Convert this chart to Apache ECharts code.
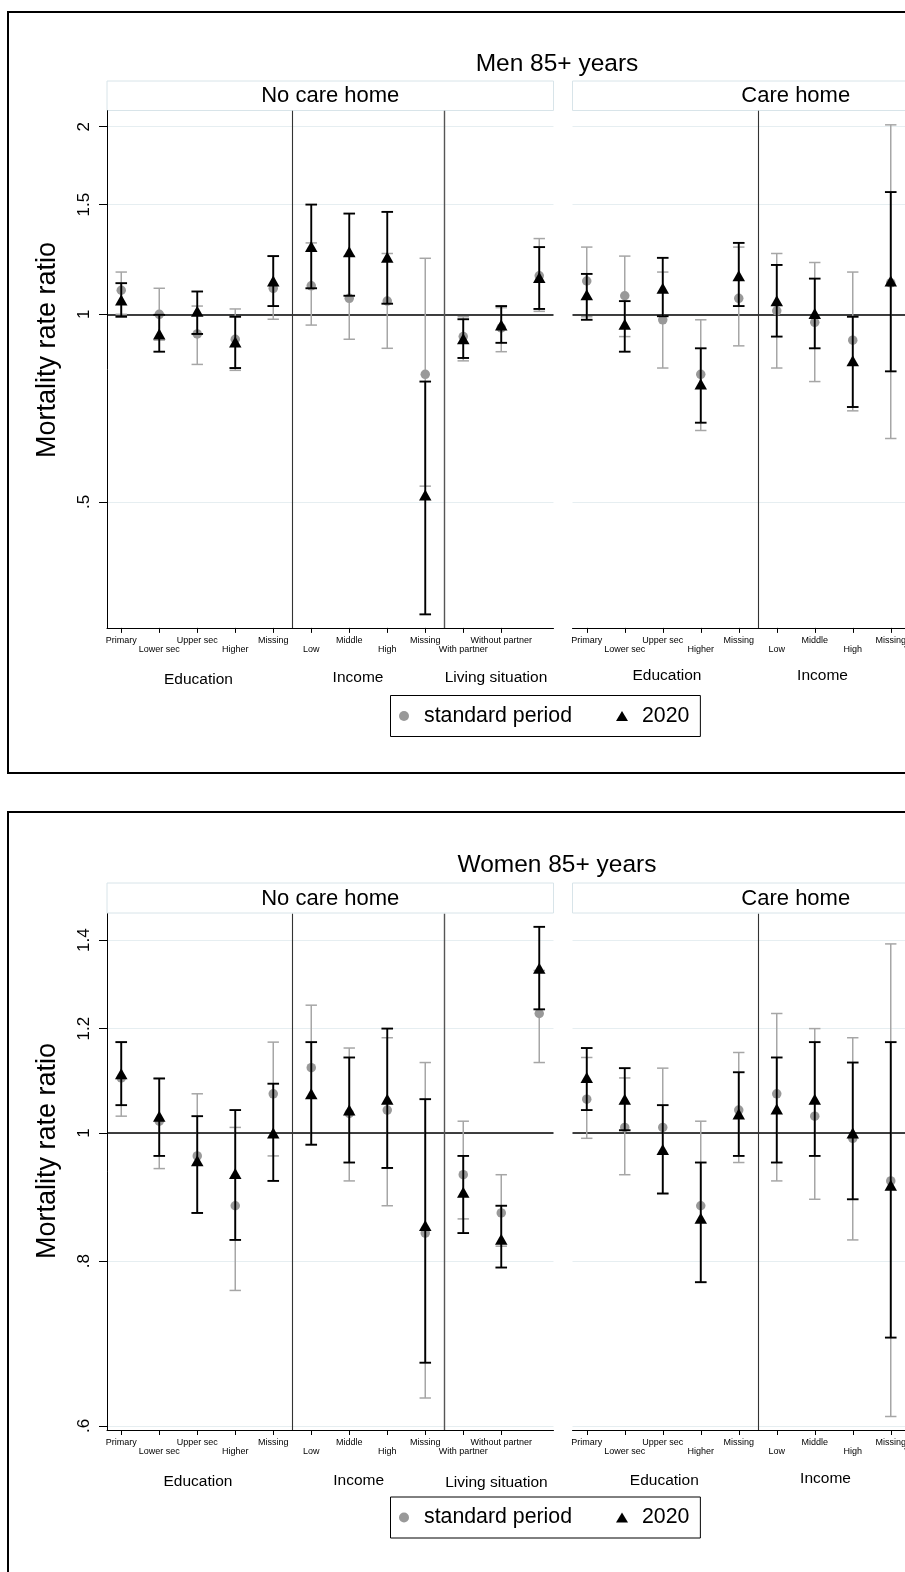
<!DOCTYPE html>
<html><head><meta charset="utf-8">
<script src="https://cdn.jsdelivr.net/npm/echarts@6/dist/echarts.min.js"></script>
<style>html,body{margin:0;padding:0;overflow:hidden;background:#fff}#c{width:1040px;height:1572px}</style>
</head><body><div id="c"></div><script>
// ---------- categories & ticks ----------
const xLabels = ['Primary','Lower sec','Upper sec','Higher','Missing','Low','Middle','High','Missing','With partner','Without partner','Other'];
const menYTicks = [0.5, 1, 1.5, 2];
const womenYTicks = [0.6, 0.8, 1, 1.2, 1.4];
const groupDividers = [5.5, 9.5];

// ---------- Men 85+, no care home ----------
const menNCH_std_est = [1.093, 1.000, 0.930, 0.912, 1.101, 1.111, 1.061, 1.050, 0.801, 0.921, 0.951, 1.153];
const menNCH_std_lo  = [1.000, 0.909, 0.831, 0.813, 0.982, 0.961, 0.912, 0.882, 0.530, 0.842, 0.871, 1.011];
const menNCH_std_hi  = [1.169, 1.101, 1.031, 1.020, 1.240, 1.302, 1.240, 1.252, 1.230, 0.991, 1.025, 1.323];
const menNCH_20_est  = [1.054, 0.930, 1.011, 0.903, 1.131, 1.285, 1.260, 1.235, 0.513, 0.914, 0.961, 1.146];
const menNCH_20_lo   = [0.991, 0.871, 0.930, 0.820, 1.031, 1.101, 1.071, 1.040, 0.330, 0.851, 0.900, 1.020];
const menNCH_20_hi   = [1.122, 0.998, 1.088, 0.991, 1.240, 1.500, 1.451, 1.460, 0.780, 0.982, 1.031, 1.282];

// ---------- Men 85+, care home (visible part) ----------
const menCH_std_est = [1.131, 1.071, 0.980, 0.801, 1.061, 1.013, 0.971, 0.909, 1.123];
const menCH_std_lo  = [0.991, 0.921, 0.820, 0.651, 0.890, 0.820, 0.780, 0.700, 0.632];
const menCH_std_hi  = [1.282, 1.240, 1.169, 0.980, 1.282, 1.252, 1.211, 1.169, 2.014];
const menCH_20_est  = [1.075, 0.964, 1.101, 0.773, 1.153, 1.051, 1.003, 0.842, 1.131];
const menCH_20_lo   = [0.980, 0.871, 0.993, 0.670, 1.031, 0.921, 0.882, 0.710, 0.810];
const menCH_20_hi   = [1.161, 1.050, 1.232, 0.882, 1.302, 1.200, 1.141, 0.991, 1.571];

// ---------- Women 85+, no care home ----------
const womenNCH_std_est = [1.101, 1.021, 0.961, 0.881, 1.071, 1.121, 1.035, 1.041, 0.840, 0.930, 0.870, 1.232];
const womenNCH_std_lo  = [1.030, 0.940, 0.870, 0.760, 0.961, 0.980, 0.920, 0.881, 0.630, 0.861, 0.821, 1.131];
const womenNCH_std_hi  = [1.172, 1.100, 1.071, 1.010, 1.172, 1.250, 1.160, 1.181, 1.131, 1.021, 0.930, 1.328];
const womenNCH_20_est  = [1.109, 1.030, 0.953, 0.932, 1.000, 1.071, 1.041, 1.061, 0.851, 0.902, 0.831, 1.333];
const womenNCH_20_lo   = [1.050, 0.961, 0.870, 0.830, 0.920, 0.980, 0.950, 0.941, 0.670, 0.840, 0.791, 1.241];
const womenNCH_20_hi   = [1.172, 1.100, 1.030, 1.041, 1.090, 1.172, 1.141, 1.200, 1.061, 0.961, 0.881, 1.433];

// ---------- Women 85+, care home (visible part) ----------
const womenCH_std_est = [1.061, 1.010, 1.010, 0.881, 1.041, 1.071, 1.030, 0.991, 0.920];
const womenCH_std_lo  = [0.991, 0.930, 0.900, 0.771, 0.950, 0.920, 0.891, 0.830, 0.610];
const womenCH_std_hi  = [1.141, 1.101, 1.120, 1.021, 1.151, 1.232, 1.200, 1.181, 1.391];
const womenCH_20_est  = [1.102, 1.061, 0.972, 0.862, 1.034, 1.043, 1.061, 1.000, 0.913];
const womenCH_20_lo   = [1.041, 1.005, 0.900, 0.771, 0.961, 0.950, 0.961, 0.891, 0.700];
const womenCH_20_hi   = [1.160, 1.120, 1.050, 0.950, 1.112, 1.141, 1.172, 1.131, 1.172];

// ---------- layout ----------
const FONT = '"Liberation Sans", Arial, Helvetica, sans-serif';
const GRAY_BAR = '#a6a6a6', GRAY_PT = '#999999', BLACK = '#000000';
const xPos = xLabels.map((_, i) => i + 1);

const panels = [
  { left: 107,   top: 110.7, height: 517.2, min: 0.3139, max: 2.122, ticks: menYTicks, showY: true,
    std: [menNCH_std_est, menNCH_std_lo, menNCH_std_hi], y20: [menNCH_20_est, menNCH_20_lo, menNCH_20_hi] },
  { left: 572.5, top: 110.7, height: 517.2, min: 0.3139, max: 2.122, ticks: menYTicks, showY: false,
    std: [menCH_std_est, menCH_std_lo, menCH_std_hi], y20: [menCH_20_est, menCH_20_lo, menCH_20_hi] },
  { left: 107,   top: 913.8, height: 516.2, min: 0.5958, max: 1.466, ticks: womenYTicks, showY: true,
    std: [womenNCH_std_est, womenNCH_std_lo, womenNCH_std_hi], y20: [womenNCH_20_est, womenNCH_20_lo, womenNCH_20_hi] },
  { left: 572.5, top: 913.8, height: 516.2, min: 0.5958, max: 1.466, ticks: womenYTicks, showY: false,
    std: [womenCH_std_est, womenCH_std_lo, womenCH_std_hi], y20: [womenCH_20_est, womenCH_20_lo, womenCH_20_hi] }
];
const GRID_W = 446.5;

function barRender(capHalf, color, width) {
  return function (params, api) {
    const x = api.value(0), lo = api.value(1), hi = api.value(2);
    const p1 = api.coord([x, lo]), p2 = api.coord([x, hi]);
    const style = { stroke: color, lineWidth: width, fill: null };
    return { type: 'group', children: [
      { type: 'line', shape: { x1: p1[0], y1: p1[1], x2: p2[0], y2: p2[1] }, style: style },
      { type: 'line', shape: { x1: p1[0] - capHalf, y1: p1[1], x2: p1[0] + capHalf, y2: p1[1] }, style: style },
      { type: 'line', shape: { x1: p2[0] - capHalf, y1: p2[1], x2: p2[0] + capHalf, y2: p2[1] }, style: style }
    ]};
  };
}

const grid = [], xAxis = [], yAxis = [], series = [];
panels.forEach((p, i) => {
  grid.push({ left: p.left, top: p.top, width: GRID_W, height: p.height });
  xAxis.push({
    gridIndex: i, type: 'value', min: 0.625, max: 12.375,
    axisLine: { show: true, lineStyle: { color: '#000', width: 1 } },
    axisTick: { show: true, customValues: xPos, length: 5, lineStyle: { color: '#000', width: 1 } },
    axisLabel: { show: true, customValues: xPos, fontSize: 9, lineHeight: 9, margin: 8.5, color: '#000', fontFamily: FONT,
      formatter: v => { const k = Math.round(v) - 1; return (k % 2 === 1 ? '\n' : '') + xLabels[k]; } },
    splitLine: { show: false }
  });
  yAxis.push({
    gridIndex: i, type: 'log', logBase: 10, min: p.min, max: p.max,
    axisLine: { show: p.showY, lineStyle: { color: '#000', width: 1 } },
    axisTick: { show: p.showY, customValues: p.ticks, length: 8, lineStyle: { color: '#000', width: 1 } },
    axisLabel: { show: p.showY, customValues: p.ticks, rotate: 90, fontSize: 17, margin: 14, color: '#000', fontFamily: FONT,
      formatter: v => String(+v.toFixed(2)).replace(/^0\./, '.') },
    splitLine: { show: true, lineStyle: { color: '#e6eef1', width: 1 } }
  });
  const n = p.std[0].length;
  const stdBars = [], stdPts = [], bars20 = [], pts20 = [];
  for (let k = 0; k < n; k++) {
    stdBars.push([xPos[k], p.std[1][k], p.std[2][k]]);
    stdPts.push([xPos[k], p.std[0][k]]);
    bars20.push([xPos[k], p.y20[1][k], p.y20[2][k]]);
    pts20.push([xPos[k], p.y20[0][k]]);
  }
  const divs = groupDividers.filter(d => d < 12.375);
  series.push({
    type: 'custom', name: 'std CI', xAxisIndex: i, yAxisIndex: i, z: 2, silent: true,
    renderItem: barRender(5.7, GRAY_BAR, 1.5), encode: { x: 0, y: [1, 2] }, data: stdBars,
    markLine: { silent: true, symbol: 'none', z: 1, label: { show: false }, animation: false,
      data: [
        { yAxis: 1, lineStyle: { color: '#000', width: 1.6, type: 'solid' } }
      ].concat(divs.map((d, j) => ({ xAxis: d, lineStyle: { color: j === 0 ? '#333' : '#555', width: j === 0 ? 1.1 : 1.4, type: 'solid' } })))
    }
  });
  series.push({
    type: 'scatter', name: 'standard period', xAxisIndex: i, yAxisIndex: i, z: 3, silent: true,
    symbol: 'circle', symbolSize: 9.5, itemStyle: { color: GRAY_PT, opacity: 1 }, data: stdPts
  });
  series.push({
    type: 'custom', name: '2020 CI', xAxisIndex: i, yAxisIndex: i, z: 4, silent: true,
    renderItem: barRender(5.8, BLACK, 1.9), encode: { x: 0, y: [1, 2] }, data: bars20
  });
  series.push({
    type: 'scatter', name: '2020', xAxisIndex: i, yAxisIndex: i, z: 5, silent: true,
    symbol: 'triangle', symbolSize: [12.5, 11], itemStyle: { color: BLACK, opacity: 1 }, data: pts20
  });
});

function legendAt(top) {
  return {
    left: 390.5, top: top, orient: 'horizontal', padding: [10, 11, 10, 8.5],
    borderColor: '#000', borderWidth: 1, backgroundColor: '#fff',
    itemWidth: 12, itemHeight: 10, itemGap: 44, selectedMode: false,
    textStyle: { fontSize: 21.3, color: '#000', fontFamily: FONT, padding: [0, 0, 0, 9] },
    data: [{ name: 'standard period', icon: 'circle' }, { name: '2020', icon: 'triangle' }]
  };
}

function txt(t, x, y, size, rot) {
  return { type: 'text', x: x, y: y, rotation: rot || 0, z: 10, silent: true,
    style: { text: t, fill: '#000', font: size + 'px ' + FONT, textAlign: 'center', textVerticalAlign: 'middle' } };
}
function strip(x, y, w, h, t) {
  return [
    { type: 'rect', shape: { x: x, y: y, width: w, height: h }, z: 0, silent: true,
      style: { fill: '#ffffff', stroke: '#d8e4e9', lineWidth: 1 } },
    txt(t, x + w / 2, y + h / 2 + 0.5, 22)
  ];
}

const graphic = [
  { type: 'rect', shape: { x: 8, y: 12, width: 1100, height: 761 }, silent: true, z: 0,
    style: { fill: null, stroke: '#000', lineWidth: 2 } },
  { type: 'rect', shape: { x: 8, y: 812, width: 1100, height: 800 }, silent: true, z: 0,
    style: { fill: null, stroke: '#000', lineWidth: 2 } },
  txt('Men 85+ years', 557, 64.5, 24.5),
  txt('Women 85+ years', 557, 865.5, 24.5),
  ...strip(107, 81, GRID_W, 29.5, 'No care home'),
  ...strip(572.5, 81, GRID_W, 29.5, 'Care home'),
  ...strip(107, 883, GRID_W, 30, 'No care home'),
  ...strip(572.5, 883, GRID_W, 30, 'Care home'),
  txt('Mortality rate ratio', 48, 350, 27, Math.PI / 2),
  txt('Mortality rate ratio', 48, 1151, 27, Math.PI / 2),
  txt('Education', 198.5, 680, 15.5), txt('Income', 358, 678, 15.5), txt('Living situation', 496, 678, 15.5),
  txt('Education', 667, 676, 15.5), txt('Income', 822.5, 675.5, 15.5),
  txt('Education', 198, 1482, 15.5), txt('Income', 358.7, 1481, 15.5), txt('Living situation', 496.4, 1483, 15.5),
  txt('Education', 664.3, 1480.7, 15.5), txt('Income', 825.5, 1479, 15.5)
];

const chart = echarts.init(document.getElementById('c'), null, { renderer: 'canvas' });
chart.setOption({
  animation: false,
  backgroundColor: '#fff',
  grid: grid, xAxis: xAxis, yAxis: yAxis, series: series,
  legend: [legendAt(695.5), legendAt(1497)],
  graphic: graphic
});
</script></body></html>
